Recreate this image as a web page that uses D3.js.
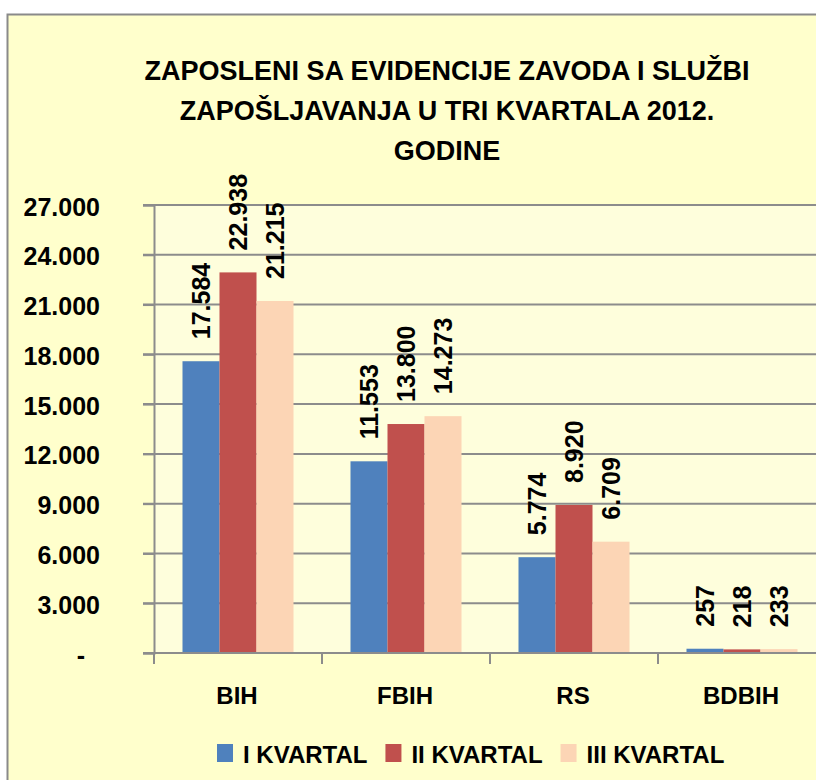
<!DOCTYPE html>
<html>
<head>
<meta charset="utf-8">
<script src="https://cdn.jsdelivr.net/npm/d3@7"></script>
<style>
  body { margin: 0; background: #fff; }
  svg { display: block; font-family: "Liberation Sans", Arial, sans-serif; font-weight: bold; }
</style>
</head>
<body>
<svg id="chart" width="816" height="780"></svg>
<script>
// podaci
const categories = ["BIH", "FBIH", "RS", "BDBIH"];
const series = ["I KVARTAL", "II KVARTAL", "III KVARTAL"];
const kvartal1 = [17584, 11553, 5774, 257];
const kvartal2 = [22938, 13800, 8920, 218];
const kvartal3 = [21215, 14273, 6709, 233];
const yTicks = [0, 3000, 6000, 9000, 12000, 15000, 18000, 21000, 24000, 27000];
const titleLines = ["ZAPOSLENI SA EVIDENCIJE ZAVODA I SLUŽBI", "ZAPOŠLJAVANJA U TRI KVARTALA 2012.", "GODINE"];

const colors = ["#4F81BD", "#C0504D", "#FCD5B5"];
const values = [kvartal1, kvartal2, kvartal3];

const svg = d3.select("#chart");
const plot = { left: 154, top: 205, bottom: 653, bandW: 168 };

// okvir grafikona
svg.append("rect")
  .attr("x", 7.5).attr("y", 14.5)
  .attr("width", 900).attr("height", 900)
  .attr("fill", "#FFFFCC")
  .attr("stroke", "#8a8a8a").attr("stroke-width", 2);

// naslov
svg.append("g").selectAll("text")
  .data(titleLines)
  .join("text")
  .attr("x", 447)
  .attr("y", (d, i) => 80 + i * 40)
  .attr("text-anchor", "middle")
  .style("font-size", "27px")
  .text(d => d);

// skale
const x0 = d3.scaleBand()
  .domain(categories)
  .range([plot.left, plot.left + plot.bandW * categories.length]);
const x1 = d3.scaleBand()
  .domain(series)
  .range([0, x0.bandwidth()])
  .paddingOuter(0.77);
const y = d3.scaleLinear().domain([0, 27000]).range([plot.bottom, plot.top]);

// pozadina plot area
svg.append("rect")
  .attr("x", plot.left).attr("y", plot.top)
  .attr("width", 900).attr("height", plot.bottom - plot.top)
  .attr("fill", "#FEFEDC");

// mreža
svg.append("g").selectAll("line")
  .data(yTicks.filter(d => d > 0))
  .join("line")
  .attr("x1", plot.left - 11).attr("x2", 900)
  .attr("y1", d => y(d)).attr("y2", d => y(d))
  .attr("stroke", "#8c8c8c").attr("stroke-width", 2);

// Y osa
const yAxis = svg.append("g")
  .attr("transform", `translate(${plot.left},0)`)
  .call(d3.axisLeft(y).tickValues(yTicks).tickSize(11).tickPadding(43)
    .tickFormat(d => d === 0 ? "-" : d3.format(",")(d).replace(/,/g, ".")));
yAxis.select(".domain").attr("stroke", "#8c8c8c").attr("stroke-width", 2);
yAxis.selectAll(".tick line").attr("stroke", "#8c8c8c").attr("stroke-width", 2);
yAxis.selectAll(".tick text")
  .attr("fill", "#000")
  .style("font-size", "25px")
  .style("font-family", "Liberation Sans, Arial, sans-serif")
  .style("font-weight", "bold")
  .attr("dy", "0.4em");
yAxis.selectAll(".tick").filter(d => d === 0).select("text").attr("dx", -15);

// stupci
const groups = svg.append("g").selectAll("g")
  .data(categories)
  .join("g")
  .attr("transform", d => `translate(${x0(d)},0)`);

groups.selectAll("rect")
  .data((c, ci) => series.map((s, si) => ({ s, si, v: values[si][ci] })))
  .join("rect")
  .attr("x", d => x1(d.s))
  .attr("width", x1.bandwidth())
  .attr("y", d => y(d.v))
  .attr("height", d => y(0) - y(d.v))
  .attr("fill", d => colors[d.si]);

// oznake vrijednosti
groups.selectAll("text")
  .data((c, ci) => series.map((s, si) => ({ s, si, v: values[si][ci] })))
  .join("text")
  .attr("transform", d => `translate(${x1(d.s) + x1.bandwidth() / 2},${y(d.v) - 22}) rotate(-90)`)
  .attr("dy", "0.36em")
  .style("font-size", "25px")
  .text(d => d3.format(",")(d.v).replace(/,/g, "."));

// X osa
svg.append("line")
  .attr("x1", plot.left - 11).attr("x2", 900)
  .attr("y1", plot.bottom).attr("y2", plot.bottom)
  .attr("stroke", "#8c8c8c").attr("stroke-width", 2);
svg.append("g").selectAll("line")
  .data(categories)
  .join("line")
  .attr("x1", d => x0(d)).attr("x2", d => x0(d))
  .attr("y1", plot.bottom).attr("y2", plot.bottom + 11)
  .attr("stroke", "#8c8c8c").attr("stroke-width", 2);
svg.append("g").selectAll("text")
  .data(categories)
  .join("text")
  .attr("x", d => x0(d) + x0.bandwidth() / 2 - 1)
  .attr("y", 704)
  .attr("text-anchor", "middle")
  .style("font-size", "24px")
  .text(d => d);

// legenda
const legend = svg.append("g");
let lx = 217;
series.forEach((s, i) => {
  legend.append("rect")
    .attr("x", lx).attr("y", 744)
    .attr("width", 16).attr("height", 18)
    .attr("fill", colors[i]);
  const t = legend.append("text")
    .attr("x", lx + 26).attr("y", 763)
    .style("font-size", "24px")
    .text(s);
  lx += 26 + t.node().getComputedTextLength() + 18;
});
</script>
</body>
</html>
